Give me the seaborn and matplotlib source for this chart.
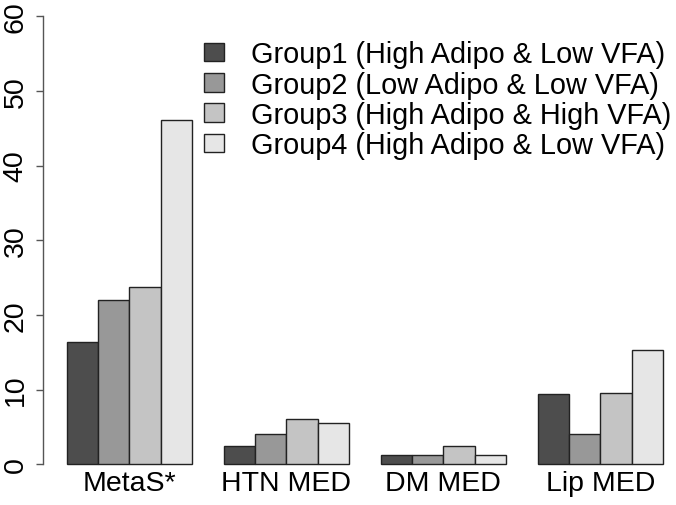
import pandas as pd
import numpy as np
import matplotlib
matplotlib.use("Agg")
import matplotlib.pyplot as plt
import seaborn as sns

# =========================
# Datos
# =========================
categorias = ["MetaS*", "HTN MED", "DM MED", "Lip MED"]
grupos = [
    "Group1 (High Adipo & Low VFA)",
    "Group2 (Low Adipo & Low VFA)",
    "Group3 (High Adipo & High VFA)",
    "Group4 (High Adipo & Low VFA)",
]
grupo1 = [16.4, 2.4, 1.2, 9.4]
grupo2 = [22.0, 4.0, 1.3, 4.0]
grupo3 = [23.7, 6.0, 2.4, 9.6]
grupo4 = [46.1, 5.5, 1.2, 15.3]
colores = ["#4D4D4D", "#989898", "#C4C4C4", "#E6E6E6"]
yticks = [0, 10, 20, 30, 40, 50, 60]

df = pd.DataFrame({
    "categoria": categorias * 4,
    "grupo": np.repeat(grupos, len(categorias)),
    "valor": grupo1 + grupo2 + grupo3 + grupo4,
})

# =========================
# Gráfica
# =========================
sns.set_style("white")
plt.rcParams["font.family"] = ["Liberation Sans", "DejaVu Sans"]
plt.rcParams["text.color"] = "black"
plt.rcParams["xtick.labelcolor"] = "black"
plt.rcParams["ytick.labelcolor"] = "black"

fig = plt.figure(figsize=(6.76, 5.06), dpi=100)
ax = fig.add_axes([42.7 / 676, 22.8 / 506, 644.3 / 676, 484 / 506])

sns.barplot(data=df, x="categoria", y="valor", hue="grupo", hue_order=grupos,
            palette=colores, saturation=1, edgecolor="#222222", linewidth=1.0,
            width=0.8, ax=ax)

ax.set_xlim(-0.552, 3.552)
ax.set_ylim(-2.4, 62.4)
ax.set_xlabel("")
ax.set_ylabel("")

for s in ["top", "right", "bottom"]:
    ax.spines[s].set_visible(False)
ax.spines["left"].set_bounds(0, 60)
ax.spines["left"].set_color("#555555")
ax.spines["left"].set_linewidth(1.0)

ax.set_yticks(yticks)
ax.set_yticklabels([str(v) for v in yticks], rotation=90, va="center", fontsize=20.5)
ax.tick_params(axis="y", left=True, length=5, width=1.0, color="#555555", pad=5)
ax.tick_params(axis="x", bottom=False, length=0, pad=-9, labelsize=20.5)

handles, labels = ax.get_legend_handles_labels()
leg = ax.legend(handles, labels, loc="upper left",
                bbox_to_anchor=(161.3 / 644.3, 1 - 42 / 484),
                frameon=False, fontsize=20.8, handlelength=0.7, handleheight=0.6,
                handletextpad=0.93, labelspacing=0.08, borderpad=0, borderaxespad=0)
for t in leg.get_texts():
    t.set_color("black")

fig.savefig("out.png", dpi=100)
plt.close(fig)
